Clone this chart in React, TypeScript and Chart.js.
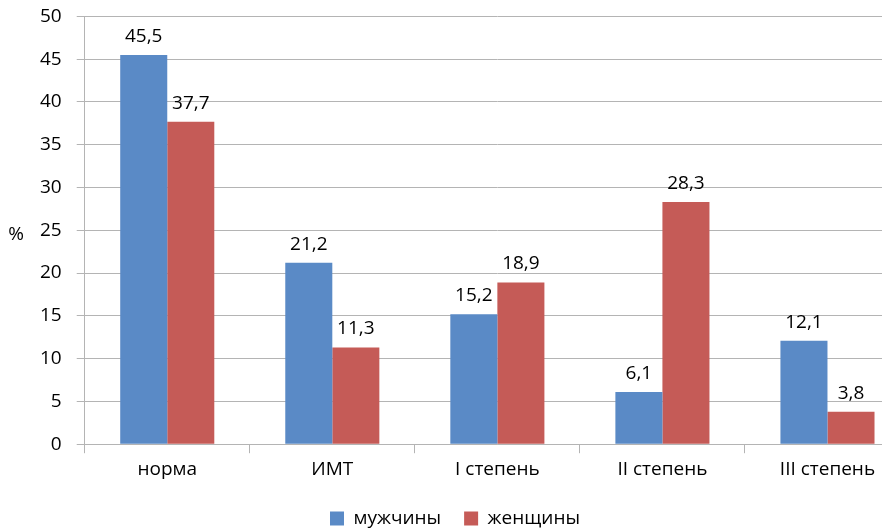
import React, { useEffect, useRef } from "react";
import { Chart, registerables } from "chart.js";

Chart.register(...registerables);

const categories = ["норма", "ИМТ", "I степень", "II степень", "III степень"];
const menValues = [45.5, 21.2, 15.2, 6.1, 12.1];
const womenValues = [37.7, 11.3, 18.9, 28.3, 3.8];
const seriesNames = ["мужчины", "женщины"];
const yTitle = "%";

const FONT = "'Open Sans', 'DejaVu Sans', sans-serif";
const FS = 19;
const BLUE = "#5A8AC6";
const RED = "#C55B57";
const GRID = "#B4B4B4";

const valueLabels = {
  id: "valueLabels",
  afterDatasetsDraw(chart: any) {
    const ctx = chart.ctx;
    ctx.save();
    ctx.font = `${FS}px ${FONT}`;
    ctx.fillStyle = "#000";
    ctx.textAlign = "center";
    ctx.textBaseline = "bottom";
    chart.data.datasets.forEach((ds: any, i: number) => {
      const meta = chart.getDatasetMeta(i);
      meta.data.forEach((bar: any, j: number) => {
        const v = ds.data[j] as number;
        ctx.fillText(v.toFixed(1).replace(".", ","), bar.x, bar.y - 9);
      });
    });
    ctx.restore();
  },
};

const yTitlePlugin = {
  id: "yTitlePlugin",
  afterDraw(chart: any) {
    const ctx = chart.ctx;
    const area = chart.chartArea;
    ctx.save();
    ctx.font = `${FS}px ${FONT}`;
    ctx.fillStyle = "#000";
    ctx.textAlign = "center";
    ctx.textBaseline = "middle";
    ctx.fillText(yTitle, 16, (area.top + area.bottom) / 2 + 4);
    ctx.restore();
  },
};

export default function App() {
  const ref = useRef<HTMLCanvasElement>(null);
  useEffect(() => {
    if (!ref.current) return;
    const chart = new Chart(ref.current, {
      type: "bar",
      data: {
        labels: categories,
        datasets: [
          { label: seriesNames[0], data: menValues, backgroundColor: BLUE },
          { label: seriesNames[1], data: womenValues, backgroundColor: RED },
        ],
      },
      options: {
        animation: false,
        responsive: false,
        devicePixelRatio: 1,
        layout: { padding: { left: 0, top: 9, right: 0, bottom: -9 } },
        datasets: {
          bar: { categoryPercentage: 0.57, barPercentage: 1 },
        },
        plugins: {
          legend: {
            position: "bottom",
            labels: {
              font: { family: FONT, size: FS },
              color: "#000",
              boxWidth: 14,
              boxHeight: 14,
              padding: 23,
            },
          },
          tooltip: { enabled: false },
        },
        scales: {
          x: {
            grid: {
              drawOnChartArea: false,
              drawTicks: true,
              tickLength: 9,
              color: GRID,
            },
            border: { color: GRID },
            ticks: {
              font: { family: FONT, size: FS },
              color: "#000",
              padding: 5,
              maxRotation: 0,
            },
          },
          y: {
            min: 0,
            max: 50,
            afterFit: (scale: any) => {
              scale.width += 35;
            },
            grid: {
              color: GRID,
              tickLength: 18,
              tickBorderDash: [8, 10],
              tickBorderDashOffset: 8,
            },
            border: { color: GRID },
            ticks: {
              stepSize: 5,
              font: { family: FONT, size: FS },
              color: "#000",
              padding: 5,
            },
          },
        },
      },
      plugins: [valueLabels, yTitlePlugin],
    });
    return () => chart.destroy();
  }, []);
  return (
    <div
      style={{
        position: "fixed",
        left: 0,
        top: 0,
        width: 882,
        height: 529,
        overflow: "hidden",
        background: "#fff",
      }}
    >
      <canvas ref={ref} width={910} height={529} style={{ width: 910, height: 529 }} />
    </div>
  );
}
